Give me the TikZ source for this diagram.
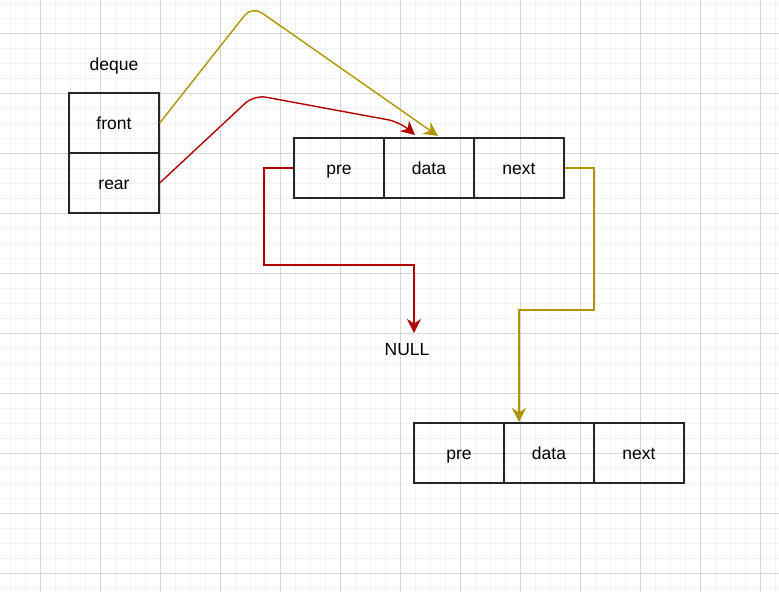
\documentclass[tikz,border=0pt]{standalone}
\usepackage{fontspec}
\setmainfont{Liberation Sans}
\usetikzlibrary{arrows.meta,calc}
\definecolor{gminor}{HTML}{F2F2F2}
\definecolor{gmajor}{HTML}{D6D6D6}
\definecolor{ylw}{HTML}{B09500}
\definecolor{rd}{HTML}{B20000}
\tikzset{
  cell/.style={draw=black!85, line width=1.4pt, minimum width=90pt, minimum height=60pt, inner sep=0pt, text height=15.3pt, text depth=2.7pt, font=\fontsize{17.5}{20}\selectfont},
  lbl/.style={inner sep=0pt, text height=15.3pt, text depth=2.7pt, font=\fontsize{17.5}{20}\selectfont},
  conn/.style={line width=1.4pt, -{Stealth[length=14pt,width=14pt,inset=4.5pt]}},
}
\begin{document}
\begin{tikzpicture}[x=1pt,y=-1pt]
\useasboundingbox (0,0) rectangle (779,592);
\fill[white] (0,0) rectangle (779,592);
% grid
\foreach \x in {10,25,...,779} \draw[gminor, line width=1pt] (\x,0) -- (\x,592);
\foreach \y in {3,18,...,592} \draw[gminor, line width=1pt] (0,\y) -- (779,\y);
\foreach \x in {40,100,...,779} \draw[gmajor, line width=1pt] (\x,0) -- (\x,592);
\foreach \y in {33,93,...,592} \draw[gmajor, line width=1pt] (0,\y) -- (779,\y);
% deque
\node[lbl] (dq) at (114,64) {deque};
\node[cell] (front) at (114,123) {front};
\node[cell] (rear) at (114,183) {rear};
% top node
\node[cell] (pre1) at (339,168) {pre};
\node[cell] (data1) at (429,168) {data};
\node[cell] (next1) at (519,168) {next};
% bottom node
\node[cell] (pre2) at (459,453) {pre};
\node[cell] (data2) at (549,453) {data};
\node[cell] (next2) at (639,453) {next};
% NULL
\node[lbl] (null) at (407,349) {NULL};
\coordinate (nulltop) at (414,333);
\coordinate (ytop) at (438,136);
\coordinate (rtop) at (415,135);
\coordinate (btop) at (519,422);
% connectors
\draw[conn, ylw, rounded corners=12pt] (front.east) -- (252,6) -- (ytop);
\draw[conn, rd, rounded corners=12pt] (rear.east) -- (254,95) -- (400,122) -- (rtop);
\draw[conn, rd] (pre1.west) -- (264,168) -- (264,265) -- (414,265) -- (nulltop);
\draw[conn, ylw] (next1.east) -- (594,168) -- (594,310) -- (519,310) -- (btop);
\end{tikzpicture}
\end{document}
